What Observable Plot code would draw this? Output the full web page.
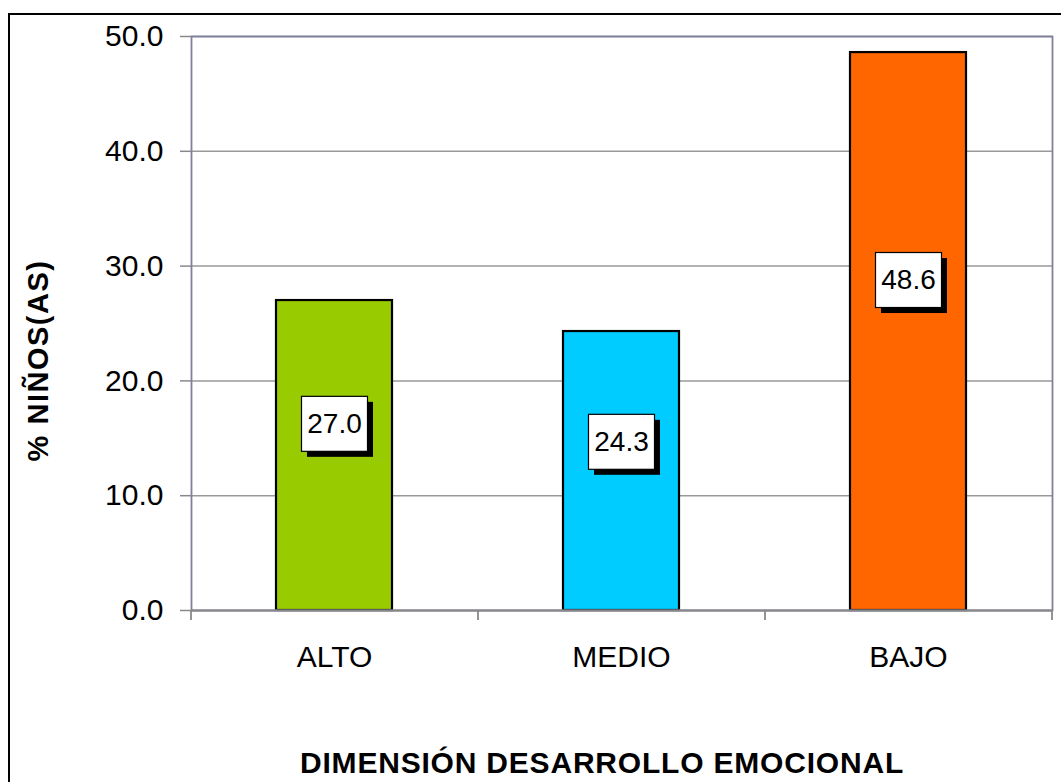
<!DOCTYPE html>
<html>
<head>
<meta charset="utf-8">
<script src="https://cdn.jsdelivr.net/npm/d3@7"></script>
<script src="https://cdn.jsdelivr.net/npm/@observablehq/plot@0.6"></script>
<style>
  html, body { margin: 0; padding: 0; background: #fff; overflow: hidden; width: 1061px; height: 782px; }
  #chart { position: absolute; left: 0; top: 0; }
  #border { position: absolute; left: 8px; top: 13px; width: 1100px; height: 820px; border: 2.5px solid #000; box-sizing: border-box; pointer-events: none; }
</style>
</head>
<body>
<div id="chart"></div>
<div id="border"></div>
<script>
const categories = ["ALTO", "MEDIO", "BAJO"];
const values = [27.0, 24.3, 48.6];
const colors = ["#99cc00", "#00ccff", "#ff6600"];
const yTicks = [0, 10, 20, 30, 40, 50];
const yTitle = "% NIÑOS(AS)";
const xTitle = "DIMENSIÓN DESARROLLO EMOCIONAL";

const data = categories.map((c, i) => ({category: c, value: values[i]}));
const fmt = d3.format(".1f");
const step = (1061 - 191 - 9) / categories.length;
const ns = "http://www.w3.org/2000/svg";

function labelBoxes(index, scales, vals, dimensions, context, next) {
  const g = next(index, scales, vals, dimensions, context);
  const W = 66, H = 55, off = 5.5;
  for (const i of index) {
    const cx = vals.x[i], cy = vals.y[i];
    const sh = document.createElementNS(ns, "rect");
    sh.setAttribute("x", cx - W / 2 + off);
    sh.setAttribute("y", cy - H / 2 + off);
    sh.setAttribute("width", W);
    sh.setAttribute("height", H);
    sh.setAttribute("fill", "#000");
    const box = document.createElementNS(ns, "rect");
    box.setAttribute("x", cx - W / 2);
    box.setAttribute("y", cy - H / 2);
    box.setAttribute("width", W);
    box.setAttribute("height", H);
    box.setAttribute("fill", "#fff");
    box.setAttribute("stroke", "#000");
    box.setAttribute("stroke-width", 1.2);
    g.insertBefore(box, g.firstChild);
    g.insertBefore(sh, box);
  }
  return g;
}

const chart = Plot.plot({
  width: 1061,
  height: 782,
  marginLeft: 191,
  marginRight: 9,
  marginTop: 36,
  marginBottom: 172,
  style: {fontFamily: "'Liberation Sans', Arial, sans-serif", background: "transparent", color: "#000"},
  x: {domain: categories, paddingInner: 0.595, paddingOuter: 0.2975},
  y: {domain: [0, 50]},
  color: {domain: categories, range: colors},
  marks: [
    Plot.gridY(yTicks, {stroke: "#999", strokeOpacity: 1, strokeWidth: 1.5}),
    Plot.barY(data, {x: "category", y: "value", fill: "category", stroke: "#000", strokeWidth: 2.2}),
    Plot.frame({stroke: "#7f7f9f", strokeWidth: 1.8}),
    Plot.ruleY([0], {stroke: "#888", strokeWidth: 1.8}),
    Plot.axisY({ticks: yTicks, tickFormat: fmt, tickSize: 11, tickPadding: 17, fontSize: 30, stroke: "#888", strokeWidth: 1.5, label: null}),
    Plot.ruleX(categories, {x: d => d, y1: 0, y2: 0, insetTop: 10, dx: -step / 2, stroke: "#888", strokeWidth: 1.8}),
    Plot.ruleX([categories[categories.length - 1]], {x: d => d, y1: 0, y2: 0, insetTop: 10, dx: step / 2, stroke: "#888", strokeWidth: 1.8}),
    Plot.axisX({tickSize: 0, tickPadding: 35, fontSize: 30, label: null}),
    Plot.text(data, {
      x: "category",
      y: d => d.value * 0.58 + 0.6,
      text: d => fmt(d.value),
      fontSize: 28,
      fill: "#000",
      render: labelBoxes
    }),
    Plot.text([yTitle], {frameAnchor: "left", textAnchor: "middle", lineAnchor: "middle", rotate: -90, dx: -153, dy: 37, fontSize: 29, fontWeight: "bold", letterSpacing: 1.5, fill: "#000"}),
    Plot.text([xTitle], {frameAnchor: "bottom", textAnchor: "middle", lineAnchor: "middle", dx: -20, dy: 153, fontSize: 30, fontWeight: "bold", fill: "#000"})
  ]
});
chart.querySelectorAll("text").forEach(t => {
  if (t.textContent === xTitle) t.setAttribute("letter-spacing", "0.8");
  if (t.textContent === yTitle) t.setAttribute("letter-spacing", "1.5");
});
document.getElementById("chart").appendChild(chart);
</script>
</body>
</html>
